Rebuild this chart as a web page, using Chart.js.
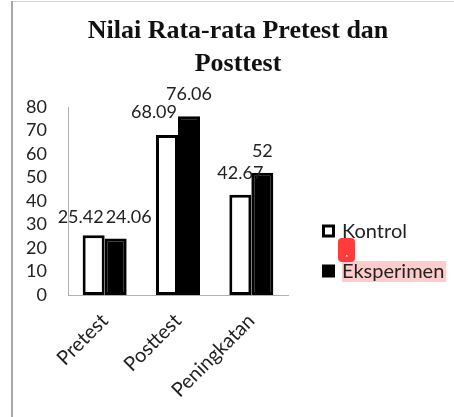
<!DOCTYPE html>
<html>
<head>
<meta charset="utf-8">
<script src="https://cdn.jsdelivr.net/npm/chart.js@4.4.1/dist/chart.umd.min.js"></script>
<style>
    html, body { margin: 0; padding: 0; background: #fff; }
    #wrap { position: relative; width: 454px; height: 417px; }
</style>
</head>
<body>
<div id="wrap"><canvas id="chart" width="454" height="417"></canvas></div>
<script>
// data
const categories = ['Pretest', 'Posttest', 'Peningkatan'];
const seriesNames = ['Kontrol', 'Eksperimen'];
const kontrolValues = [25.42, 68.09, 42.67];
const eksperimenValues = [24.06, 76.06, 52];
const yMin = 0;
const yMax = 80;
const yStep = 10;
const titleLines = ['Nilai Rata-rata Pretest dan', 'Posttest'];

const FONT = 'Lato, "Open Sans", sans-serif';

// gray frame left and top, like the cropped document page
const framePlugin = {
    id: 'frame',
    beforeDraw(chart) {
        const ctx = chart.ctx;
        ctx.save();
        ctx.fillStyle = '#fff';
        ctx.fillRect(0, 0, chart.width, chart.height);
        ctx.strokeStyle = '#d6d6d6';
        ctx.lineWidth = 1;
        ctx.beginPath();
        ctx.moveTo(11, 1.5);
        ctx.lineTo(chart.width, 1.5);
        ctx.stroke();
        ctx.strokeStyle = '#a8a8a8';
        ctx.lineWidth = 2;
        ctx.beginPath();
        ctx.moveTo(12, 1);
        ctx.lineTo(12, chart.height);
        ctx.stroke();
        ctx.restore();
    }
};

// title centred on the whole frame, not on the plot
const pageTitlePlugin = {
    id: 'pageTitle',
    afterDraw(chart, args, opts) {
        const ctx = chart.ctx;
        ctx.save();
        ctx.font = opts.font;
        ctx.fillStyle = '#111';
        ctx.textAlign = 'center';
        ctx.textBaseline = 'middle';
        opts.lines.forEach((line, i) => {
            ctx.fillText(line, opts.x, opts.top + i * opts.lineHeight);
        });
        ctx.restore();
    }
};

// value labels above the bars (offsets copy the hand-moved labels)
const valueLabelPlugin = {
    id: 'valueLabels',
    afterDatasetsDraw(chart, args, opts) {
        const ctx = chart.ctx;
        ctx.save();
        ctx.font = opts.font;
        ctx.fillStyle = '#222';
        ctx.textAlign = 'center';
        ctx.textBaseline = 'middle';
        chart.data.datasets.forEach((ds, di) => {
            const meta = chart.getDatasetMeta(di);
            meta.data.forEach((bar, i) => {
                const shift = (opts.shift[di] && opts.shift[di][i]) || [0, 0];
                ctx.fillText(String(ds.data[i]), bar.x + shift[0], bar.y - opts.gap + shift[1]);
            });
        });
        ctx.restore();
    }
};

// legend on the right, drawn by hand so the plot area keeps its place
const sideLegendPlugin = {
    id: 'sideLegend',
    afterDraw(chart, args, opts) {
        const ctx = chart.ctx;
        ctx.save();
        ctx.font = opts.font;
        ctx.textBaseline = 'middle';
        chart.data.datasets.forEach((ds, i) => {
            const y = opts.top + i * opts.spacing;
            const textW = ctx.measureText(ds.label).width;
            if (i === 1) {
                ctx.fillStyle = '#ffcccc';
                ctx.fillRect(opts.x + 20, y - 10, textW + 2, 21);
            }
            ctx.fillStyle = ds.backgroundColor;
            ctx.strokeStyle = '#000';
            ctx.lineWidth = 3;
            ctx.fillRect(opts.x + 1.5, y - 5, 10, 10);
            ctx.strokeRect(opts.x + 1.5, y - 5, 10, 10);
            ctx.fillStyle = '#222';
            ctx.fillText(ds.label, opts.x + 20, y + 1);
        });
        // red marker between the two legend rows
        ctx.fillStyle = '#ff3b3b';
        ctx.beginPath();
        ctx.roundRect(opts.x + 16, opts.top + 7, 17, 24, 4);
        ctx.fill();
        ctx.fillStyle = '#fff';
        ctx.fillRect(opts.x + 24, opts.top + 24, 1.5, 1.5);
        ctx.restore();
    }
};

const ctx = document.getElementById('chart').getContext('2d');
new Chart(ctx, {
    type: 'bar',
    data: {
        labels: categories,
        datasets: [{
            label: seriesNames[0],
            data: kontrolValues,
            backgroundColor: '#ffffff',
            borderColor: '#000000',
            borderWidth: 3,
            borderSkipped: false
        }, {
            label: seriesNames[1],
            data: eksperimenValues,
            backgroundColor: '#000000',
            borderColor: '#000000',
            borderWidth: 3,
            borderSkipped: false
        }]
    },
    options: {
        responsive: false,
        animation: false,
        devicePixelRatio: 1,
        categoryPercentage: 0.6,
        barPercentage: 1.0,
        layout: {
            padding: { left: 20, right: 166, top: 107, bottom: 0 }
        },
        scales: {
            x: {
                grid: { display: false },
                border: { display: true, color: '#b0b0b0', width: 1 },
                ticks: {
                    color: '#222',
                    font: { family: FONT, size: 20 },
                    maxRotation: 45,
                    minRotation: 45,
                    autoSkip: false,
                    padding: 6
                },
                afterFit(scale) { scale.height = 122; }
            },
            y: {
                min: yMin,
                max: yMax,
                grid: { display: false, drawTicks: false },
                border: { display: true, color: '#b0b0b0', width: 1 },
                ticks: {
                    stepSize: yStep,
                    autoSkip: false,
                    color: '#222',
                    font: { family: FONT, size: 18 },
                    padding: 21
                },
                afterFit(scale) { scale.width = 48; }
            }
        },
        plugins: {
            legend: { display: false },
            tooltip: { enabled: false },
            title: { display: false },
            pageTitle: {
                lines: titleLines,
                font: 'bold 26px "Liberation Serif", "Times New Roman", serif',
                x: 238,
                top: 31,
                lineHeight: 33
            },
            valueLabels: {
                font: '18px ' + FONT,
                gap: 22,
                shift: [
                    [[-13, 4], [-13, -1]],
                    [[13, 1], [0, 0]]
                ]
            },
            sideLegend: {
                font: '20px ' + FONT,
                x: 322,
                top: 231,
                spacing: 40
            }
        }
    },
    plugins: [framePlugin, pageTitlePlugin, valueLabelPlugin, sideLegendPlugin]
});
</script>
</body>
</html>
